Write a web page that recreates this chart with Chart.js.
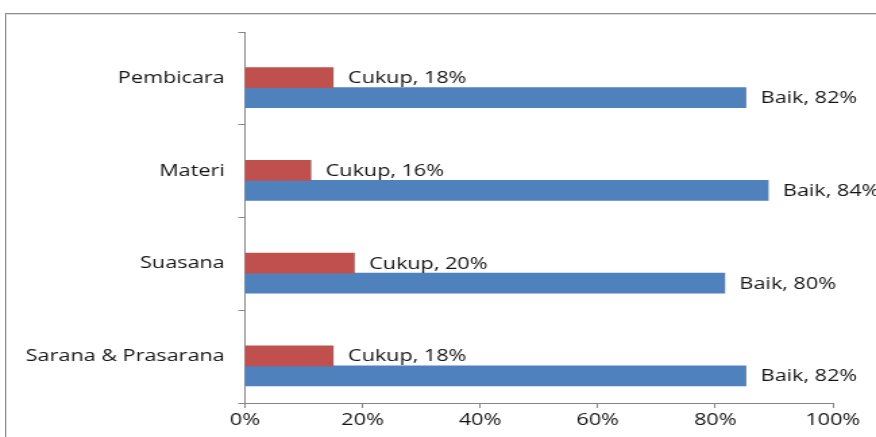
<!DOCTYPE html>
<html>
<head>
<meta charset="utf-8">
<script src="https://cdn.jsdelivr.net/npm/chart.js@4/dist/chart.umd.min.js"></script>
<style>
    html, body { margin: 0; padding: 0; background: #fff; overflow: hidden; }
    body { width: 876px; height: 437px; position: relative; }
    #bingkai {
        position: absolute; left: 5px; top: 13px; width: 1000px; height: 600px;
        border: 1px solid #8f8f8f; box-shadow: inset 1px 1px 0 #dcdcdc;
    }
    #wadah {
        position: absolute; left: 0; top: 0; width: 649px; height: 437px;
        transform: scaleX(1.3498); transform-origin: 0 0;
    }
</style>
</head>
<body>
<div id="bingkai"></div>
<div id="wadah"><canvas id="grafik"></canvas></div>
<script>
document.addEventListener("DOMContentLoaded", () => {
    // Data
    const kategori = ["Pembicara", "Materi", "Suasana", "Sarana & Prasarana"];
    const nilaiCukup = [15.0, 11.2, 18.6, 15.0];
    const nilaiBaik = [85.2, 89.0, 81.6, 85.2];
    const labelCukup = [18, 16, 20, 18];
    const labelBaik = [82, 84, 80, 82];
    const tickPersen = [0, 20, 40, 60, 80, 100];

    const warnaTeks = "#141414";
    const warnaSumbu = "#868686";
    const huruf = '"Open Sans", sans-serif';

    const teksLabel = [
        labelCukup.map(v => `Cukup, ${v}%`),
        labelBaik.map(v => `Baik, ${v}%`)
    ];

    // batang di excel agak turun dari tengah kategori
    const geser = 0.1;
    const titik = arr => arr.map((v, i) => ({ x: v, y: i }));

    // Label di ujung batang
    const labelBatang = {
        id: "labelBatang",
        afterDatasetsDraw(chart) {
            const ctx = chart.ctx;
            ctx.save();
            ctx.font = `16px ${huruf}`;
            ctx.fillStyle = warnaTeks;
            ctx.textBaseline = "middle";
            ctx.textAlign = "left";
            chart.data.datasets.forEach((ds, i) => {
                chart.getDatasetMeta(i).data.forEach((bar, j) => {
                    ctx.fillText(teksLabel[i][j], bar.x + 11, bar.y + 1);
                });
            });
            ctx.restore();
        }
    };

    const ctx = document.getElementById("grafik").getContext("2d");
    new Chart(ctx, {
        type: "bar",
        data: {
            labels: kategori,
            datasets: [
                { label: "Cukup", data: titik(nilaiCukup), backgroundColor: "#C0504D", yAxisID: "yb" },
                { label: "Baik", data: titik(nilaiBaik), backgroundColor: "#4F81BD", yAxisID: "yb" }
            ]
        },
        options: {
            indexAxis: "y",
            responsive: true,
            maintainAspectRatio: false,
            animation: false,
            barThickness: 20,
            layout: { padding: { left: 0, right: 32, top: 32, bottom: 0 } },
            plugins: {
                legend: { display: false },
                tooltip: { enabled: false }
            },
            scales: {
                x: {
                    min: 0,
                    max: 100,
                    afterBuildTicks: scale => {
                        scale.ticks = tickPersen.map(v => ({ value: v }));
                    },
                    afterFit: scale => { scale.height = 34; },
                    ticks: {
                        callback: v => v + "%",
                        color: warnaTeks,
                        font: { family: huruf, size: 16 },
                        padding: 3,
                        maxRotation: 0
                    },
                    grid: { drawOnChartArea: false, drawTicks: true, tickLength: 5, color: warnaSumbu },
                    border: { display: true, color: warnaSumbu }
                },
                y: {
                    type: "category",
                    afterFit: scale => { scale.width = 181.5; },
                    ticks: {
                        color: warnaTeks,
                        font: { family: huruf, size: 16 },
                        padding: 10
                    },
                    grid: { drawOnChartArea: false, drawTicks: true, tickLength: 5, color: warnaSumbu },
                    border: { display: true, color: warnaSumbu }
                },
                yb: {
                    type: "linear",
                    axis: "y",
                    display: false,
                    offset: false,
                    reverse: true,
                    min: -0.5 - geser,
                    max: kategori.length - 0.5 - geser
                }
            }
        },
        plugins: [labelBatang]
    });
});
</script>
</body>
</html>
